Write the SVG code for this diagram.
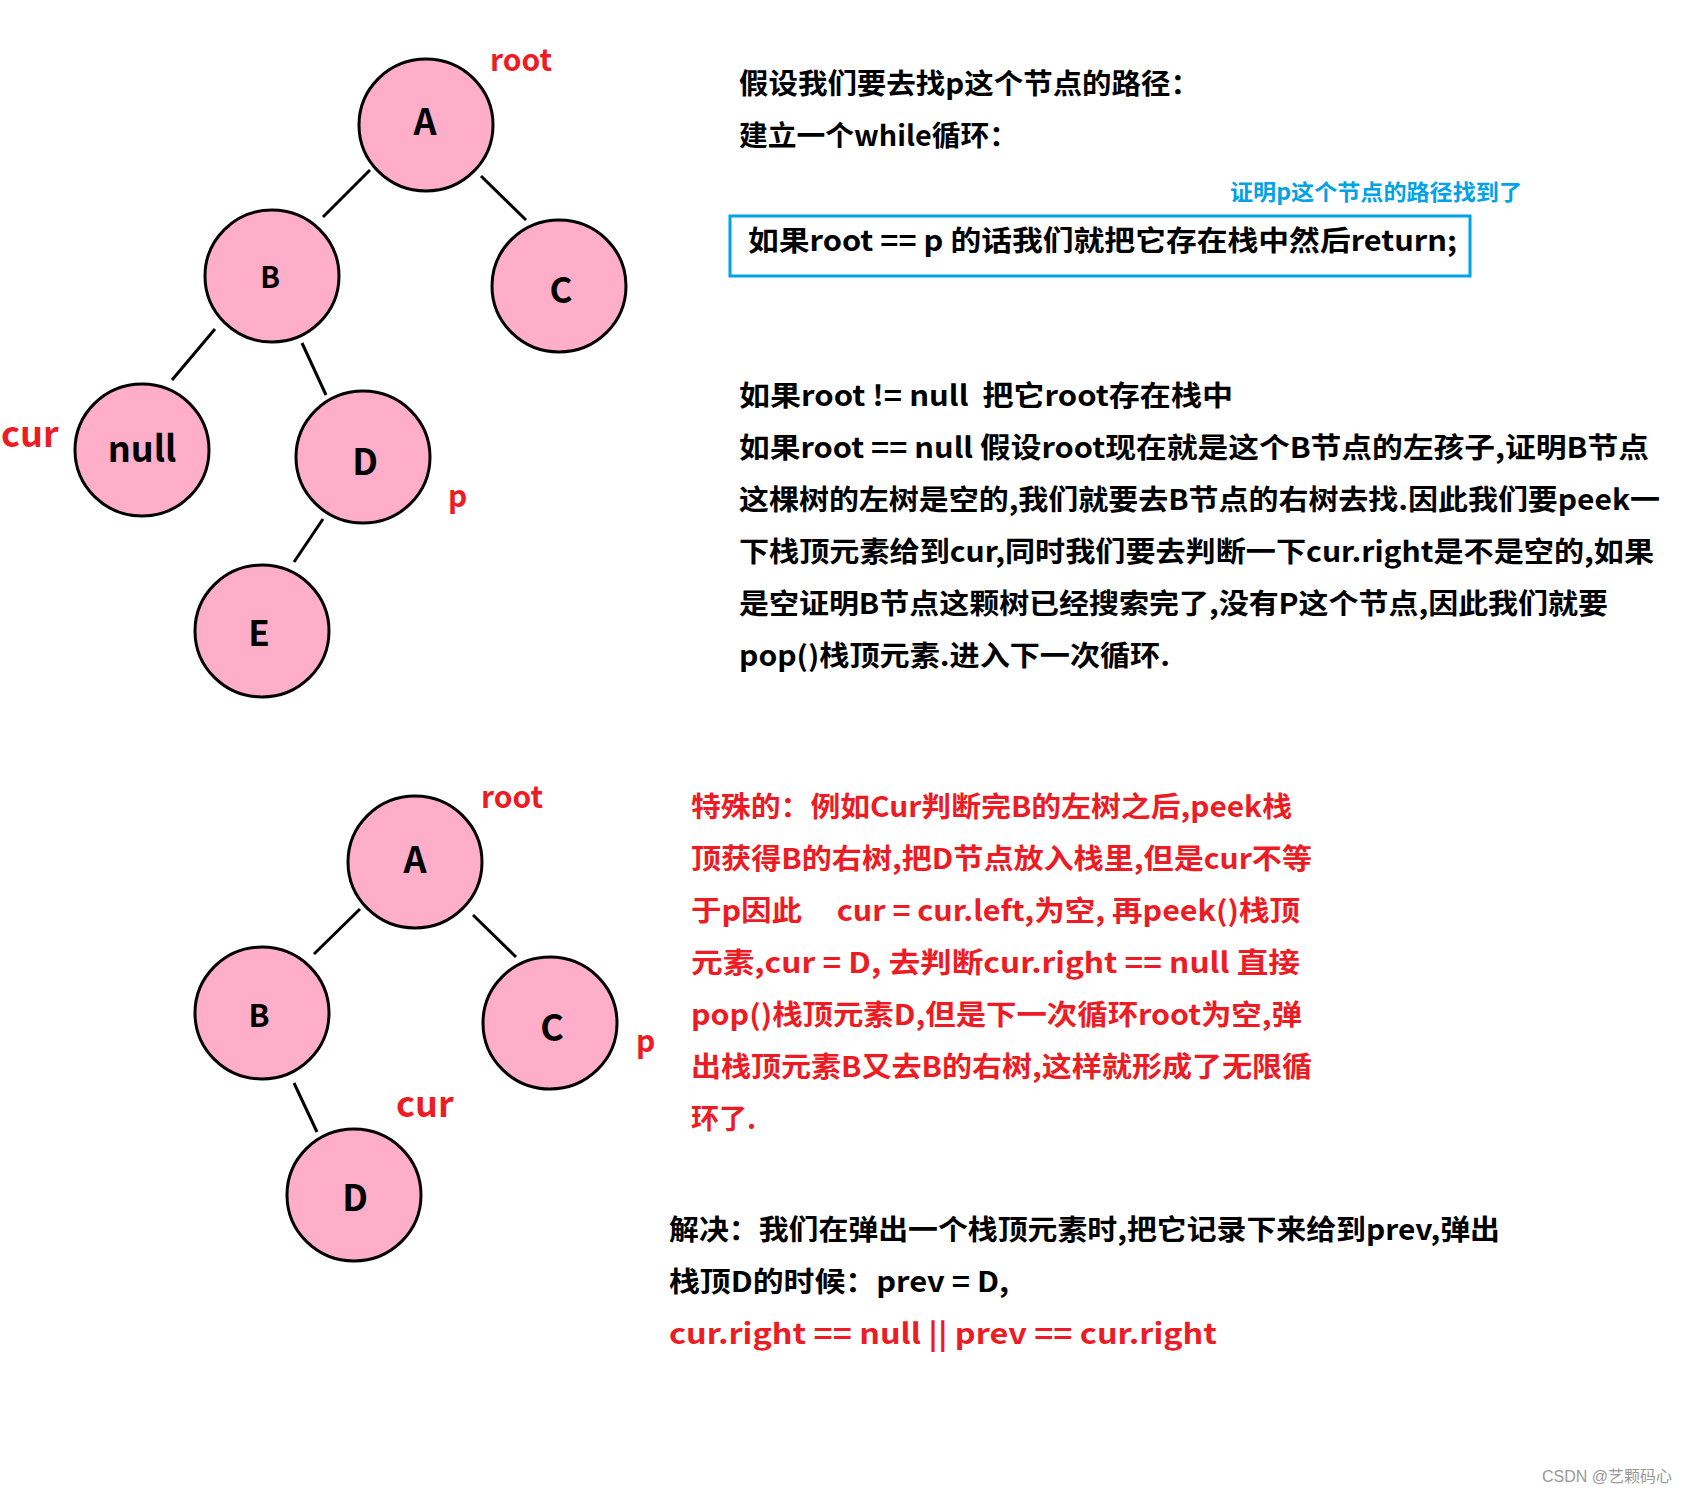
<svg xmlns="http://www.w3.org/2000/svg" width="1692" height="1493" viewBox="0 0 1692 1493">
<style>
.node ellipse{fill:#ffaec9;stroke:#000;stroke-width:3}
.node text{font-family:"Noto Sans CJK SC","Liberation Sans",sans-serif;font-weight:bold;fill:#000;text-anchor:middle}
.edges line{stroke:#000;stroke-width:3}
.lbl{font-family:"Noto Sans CJK SC","Liberation Sans",sans-serif;font-weight:bold;fill:#ed1c24}
.t{font-family:"Noto Sans CJK SC","Liberation Sans",sans-serif;font-weight:bold;font-size:28px;fill:#000;white-space:pre}
.r{fill:#ed1c24}
.b{fill:#00a2e8}
</style>
<rect width="1692" height="1493" fill="#fff"/>

<!-- top tree -->
<g class="edges" id="edges-top">
<line x1="370" y1="170" x2="323" y2="217"/>
<line x1="481" y1="176" x2="526" y2="220"/>
<line x1="215" y1="329" x2="172" y2="380"/>
<line x1="302" y1="343" x2="326" y2="395"/>
<line x1="323" y1="519" x2="294" y2="562"/>
</g>
<g class="node" id="top-A"><ellipse cx="426" cy="125" rx="67" ry="66"/><text x="425" y="135" font-size="36">A</text></g>
<g class="node" id="top-B"><ellipse cx="272" cy="276" rx="67" ry="66"/><text x="270" y="288" font-size="29">B</text></g>
<g class="node" id="top-C"><ellipse cx="559" cy="286" rx="67" ry="66"/><text x="561" y="303" font-size="35">C</text></g>
<g class="node" id="top-null"><ellipse cx="142" cy="450" rx="67" ry="66"/><text x="142" y="462" font-size="36">null</text></g>
<g class="node" id="top-D"><ellipse cx="363" cy="457" rx="67" ry="66"/><text x="365" y="475" font-size="36">D</text></g>
<g class="node" id="top-E"><ellipse cx="262" cy="631" rx="67" ry="66"/><text x="259" y="646" font-size="35">E</text></g>
<text class="lbl" x="490" y="71" font-size="30">root</text>
<text class="lbl" x="1" y="447" font-size="36">cur</text>
<text class="lbl" x="448" y="507" font-size="30">p</text>

<!-- top text -->
<text class="t" x="739" y="94" textLength="461" lengthAdjust="spacingAndGlyphs">假设我们要去找p这个节点的路径：</text>
<text class="t" x="739" y="146" textLength="279" lengthAdjust="spacingAndGlyphs">建立一个while循环：</text>
<text class="t b" x="1230" y="200" style="font-size:22px" textLength="292" lengthAdjust="spacingAndGlyphs">证明p这个节点的路径找到了</text>
<rect x="730" y="216" width="740" height="60" fill="none" stroke="#00a2e8" stroke-width="3"/>
<text class="t" x="748" y="251" textLength="709" lengthAdjust="spacingAndGlyphs">如果root == p 的话我们就把它存在栈中然后return;</text>

<text class="t" x="739" y="406" textLength="494" lengthAdjust="spacingAndGlyphs" xml:space="preserve">如果root != null  把它root存在栈中</text>
<text class="t" x="739" y="458" textLength="910" lengthAdjust="spacingAndGlyphs">如果root == null 假设root现在就是这个B节点的左孩子,证明B节点</text>
<text class="t" x="739" y="510" textLength="921" lengthAdjust="spacingAndGlyphs">这棵树的左树是空的,我们就要去B节点的右树去找.因此我们要peek一</text>
<text class="t" x="739" y="562" textLength="915" lengthAdjust="spacingAndGlyphs">下栈顶元素给到cur,同时我们要去判断一下cur.right是不是空的,如果</text>
<text class="t" x="739" y="614" textLength="869" lengthAdjust="spacingAndGlyphs">是空证明B节点这颗树已经搜索完了,没有P这个节点,因此我们就要</text>
<text class="t" x="739" y="666" textLength="431" lengthAdjust="spacingAndGlyphs">pop()栈顶元素.进入下一次循环.</text>

<!-- bottom tree -->
<g class="edges" id="edges-bottom">
<line x1="360" y1="909" x2="314" y2="954"/>
<line x1="473" y1="915" x2="516" y2="957"/>
<line x1="294" y1="1083" x2="317" y2="1132"/>
</g>
<g class="node" id="bot-A"><ellipse cx="415" cy="862" rx="67" ry="66"/><text x="415" y="873" font-size="36">A</text></g>
<g class="node" id="bot-B"><ellipse cx="262" cy="1013" rx="67" ry="66"/><text x="259" y="1027" font-size="31">B</text></g>
<g class="node" id="bot-C"><ellipse cx="550" cy="1023" rx="67" ry="66"/><text x="552" y="1041" font-size="36">C</text></g>
<g class="node" id="bot-D"><ellipse cx="354" cy="1195" rx="67" ry="66"/><text x="355" y="1211" font-size="36">D</text></g>
<text class="lbl" x="481" y="808" font-size="30">root</text>
<text class="lbl" x="396" y="1117" font-size="36">cur</text>
<text class="lbl" x="636" y="1052" font-size="30">p</text>

<!-- bottom text -->
<text class="t r" x="691" y="817" textLength="601" lengthAdjust="spacingAndGlyphs">特殊的：例如Cur判断完B的左树之后,peek栈</text>
<text class="t r" x="691" y="869" textLength="621" lengthAdjust="spacingAndGlyphs">顶获得B的右树,把D节点放入栈里,但是cur不等</text>
<text class="t r" x="691" y="921" textLength="609" lengthAdjust="spacingAndGlyphs" xml:space="preserve">于p因此     cur = cur.left,为空, 再peek()栈顶</text>
<text class="t r" x="691" y="973" textLength="609" lengthAdjust="spacingAndGlyphs">元素,cur = D, 去判断cur.right == null 直接</text>
<text class="t r" x="691" y="1025" textLength="611" lengthAdjust="spacingAndGlyphs">pop()栈顶元素D,但是下一次循环root为空,弹</text>
<text class="t r" x="691" y="1077" textLength="621" lengthAdjust="spacingAndGlyphs">出栈顶元素B又去B的右树,这样就形成了无限循</text>
<text class="t r" x="691" y="1129">环了.</text>

<text class="t" x="669" y="1240" textLength="831" lengthAdjust="spacingAndGlyphs">解决：我们在弹出一个栈顶元素时,把它记录下来给到prev,弹出</text>
<text class="t" x="669" y="1292" textLength="340" lengthAdjust="spacingAndGlyphs">栈顶D的时候：prev = D,</text>
<text class="t r" x="669" y="1344" textLength="548" lengthAdjust="spacingAndGlyphs">cur.right == null || prev == cur.right</text>

<text x="1542" y="1482" font-family="Liberation Sans,'Noto Sans CJK SC',sans-serif" font-size="16" fill="#999">CSDN @艺颗码心</text>
</svg>
